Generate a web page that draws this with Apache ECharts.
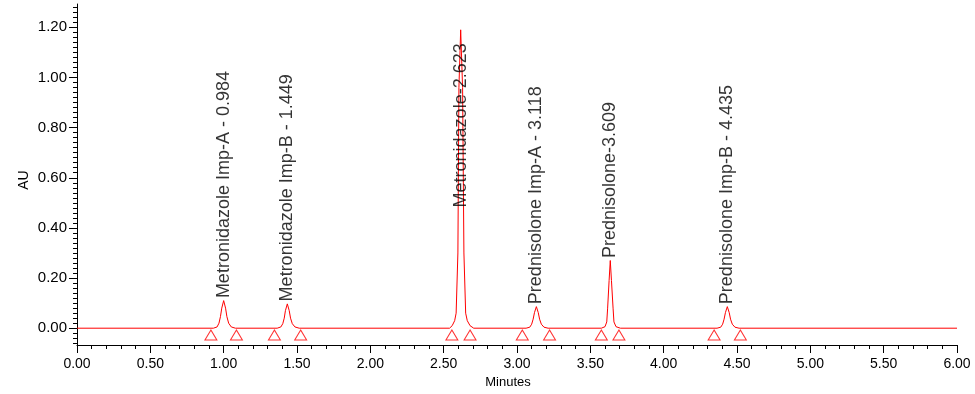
<!DOCTYPE html>
<html>
<head>
<meta charset="utf-8">
<script src="https://cdn.jsdelivr.net/npm/echarts@6/dist/echarts.min.js"></script>
<style>
html,body{margin:0;padding:0;background:#fff;}
#chart{width:975px;height:394px;}
</style>
</head>
<body>
<div id="chart"></div>
<script>
// ---- data ----
const peakNames = [
  'Metronidazole Imp-A - 0.984',
  'Metronidazole Imp-B - 1.449',
  'Metronidazole-2.623',
  'Prednisolone Imp-A - 3.118',
  'Prednisolone-3.609',
  'Prednisolone Imp-B - 4.435'
];
const peakTimes = [1.000, 1.434, 2.616, 3.132, 3.636, 4.434];
const peakHeights = [0.110, 0.097, 1.19, 0.086, 0.270, 0.086];

// peak start / end markers (minutes)
const markerTimes = [0.913, 1.087, 1.346, 1.525, 2.556, 2.680, 3.036, 3.222, 3.575, 3.695, 4.344, 4.523];

// chromatogram trace [minutes, AU]
const trace = [
  [0.000, 0],
  [0.930, 0], [0.955, 0.005], [0.968, 0.020], [0.978, 0.046], [0.987, 0.080], [1.000, 0.110],
  [1.013, 0.080], [1.022, 0.046], [1.034, 0.020], [1.052, 0.005], [1.080, 0],
  [1.365, 0], [1.390, 0.005], [1.403, 0.018], [1.413, 0.040], [1.421, 0.070], [1.434, 0.097],
  [1.447, 0.070], [1.456, 0.040], [1.468, 0.018], [1.486, 0.005], [1.515, 0],
  [2.540, 0], [2.558, 0.010], [2.575, 0.030], [2.585, 0.060], [2.597, 0.300], [2.604, 0.960], [2.616, 1.190],
  [2.629, 0.960], [2.638, 0.300], [2.650, 0.060], [2.661, 0.030], [2.680, 0.010], [2.705, 0],
  [3.062, 0], [3.087, 0.004], [3.100, 0.016], [3.110, 0.036], [3.119, 0.062], [3.132, 0.086],
  [3.145, 0.062], [3.154, 0.036], [3.166, 0.016], [3.184, 0.004], [3.212, 0],
  [3.575, 0], [3.600, 0.006], [3.612, 0.025], [3.618, 0.080], [3.628, 0.190], [3.636, 0.270],
  [3.644, 0.190], [3.655, 0.080], [3.661, 0.025], [3.675, 0.006], [3.705, 0],
  [4.364, 0], [4.389, 0.004], [4.402, 0.016], [4.412, 0.036], [4.421, 0.062], [4.434, 0.086],
  [4.447, 0.062], [4.456, 0.036], [4.468, 0.016], [4.486, 0.004], [4.514, 0],
  [6.000, 0]
];

// axis tick labels
const yTickLabels = [0.00, 0.20, 0.40, 0.60, 0.80, 1.00, 1.20];
const xAxisName = 'Minutes';
const yAxisName = 'AU';

// ---- chart ----
const FONT = 'Liberation Sans, Arial, sans-serif';
const RED = '#ff0000';
const yMin = -0.067, yMax = 1.293;
const markerLevel = -0.027;

const yMinor = [];
for (let i = -3; i <= 64; i++) yMinor.push(+(i * 0.02).toFixed(2));

const labelData = peakNames.map((n, i) => {
  const d = { name: n, value: [peakTimes[i], peakHeights[i]] };
  if (peakHeights[i] > 0.6) {
    d.label = { position: 'bottom', distance: 13, align: 'right', verticalAlign: 'middle' };
  }
  return d;
});

const chart = echarts.init(document.getElementById('chart'), null, { renderer: 'canvas' });
chart.setOption({
  animation: false,
  backgroundColor: '#fff',
  grid: { left: 77, right: 18, top: 4, bottom: 49 },
  xAxis: {
    type: 'value', min: 0, max: 6, interval: 0.5,
    axisLine: { show: true, onZero: false, lineStyle: { color: '#000', width: 1 } },
    axisTick: { show: true, length: 8, lineStyle: { color: '#000' } },
    minorTick: { show: true, splitNumber: 5, length: 4, lineStyle: { color: '#000' } },
    splitLine: { show: false },
    axisLabel: { margin: 12, fontSize: 14, fontFamily: FONT, color: '#000',
      formatter: v => v.toFixed(2) }
  },
  yAxis: [{
    type: 'value', min: yMin, max: yMax,
    axisLine: { show: true, onZero: false, lineStyle: { color: '#000', width: 1 } },
    axisTick: { show: true, length: 8, customValues: yTickLabels, lineStyle: { color: '#000' } },
    splitLine: { show: false },
    axisLabel: { margin: 10, fontSize: 15, fontFamily: FONT, color: '#000',
      customValues: yTickLabels, formatter: v => v.toFixed(2) }
  }, {
    type: 'value', min: yMin, max: yMax, position: 'left', offset: 0,
    axisLine: { show: false },
    axisTick: { show: true, length: 4, customValues: yMinor, lineStyle: { color: '#000' } },
    axisLabel: { show: false },
    splitLine: { show: false }
  }],
  graphic: [
    { type: 'text', x: 24, y: 180, rotation: Math.PI / 2,
      style: { text: yAxisName, font: '14px ' + FONT, fill: '#000', align: 'center', verticalAlign: 'middle' } },
    { type: 'text', x: 508, y: 382,
      style: { text: xAxisName, font: '13px ' + FONT, fill: '#000', align: 'center', verticalAlign: 'middle' } }
  ],
  series: [
    {
      type: 'line', data: trace, symbol: 'none', smooth: false,
      lineStyle: { color: RED, width: 1 }, z: 3
    },
    {
      type: 'scatter', data: markerTimes.map(t => [t, markerLevel]),
      symbol: 'triangle', symbolSize: [12, 10],
      itemStyle: { color: 'rgba(0,0,0,0)', borderColor: RED, borderWidth: 1 }, z: 2
    },
    {
      type: 'scatter', data: labelData, symbolSize: 1,
      itemStyle: { color: 'rgba(0,0,0,0)' }, z: 4,
      label: {
        show: true, position: 'top', distance: 2, rotate: 90,
        align: 'left', verticalAlign: 'middle',
        fontSize: 18, fontFamily: FONT, color: '#000',
        formatter: p => p.name
      }
    }
  ]
});
</script>
</body>
</html>
